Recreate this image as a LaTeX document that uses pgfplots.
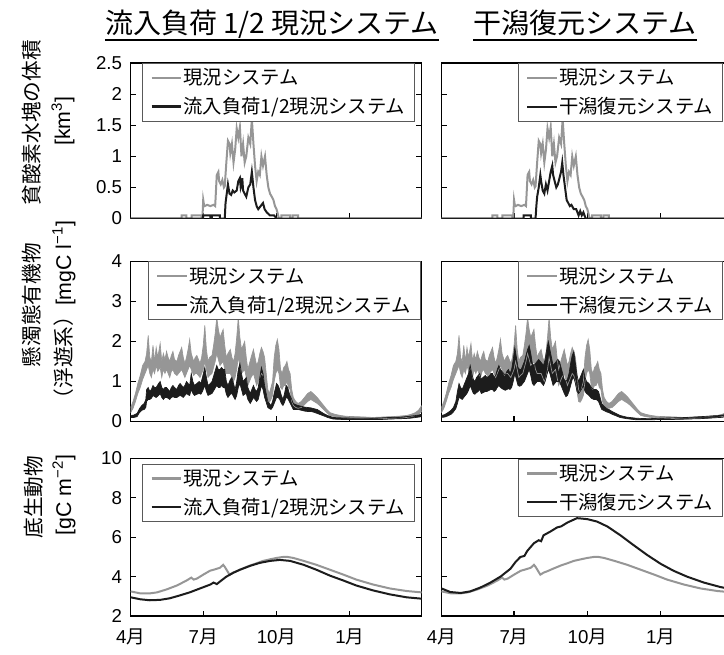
\documentclass[border=0pt]{standalone}
\usepackage{fontspec}
\setmainfont{Liberation Sans}
\newfontfamily\jp{Noto Sans CJK JP}
\usepackage{pgfplots}
\usepackage{pgfplotstable}
\pgfplotsset{compat=1.18}
\usepgfplotslibrary{fillbetween}
\definecolor{cgray}{RGB}{150,150,150}
\definecolor{cblack}{RGB}{28,28,28}

% ---------- Row 1: hypoxic water volume [km3] ----------
\pgfplotstableread{
d v
0 0
64 0
64 0.05
70 0.05
70 0
76.5 0
76.5 0.05
89 0.05
89 0
90 0
91 0.3
92 0.22
93 0.2
96 0.22
100 0.2
104 0.22
106 0.2
107 0.45
108 0.7
110 0.75
111 0.6
113 0.55
115 0.62
117 0.5
118 0.52
120 0.9
122 1.25
124 1.2
125 1.05
127 1.2
129 0.9
131 1.1
133 1.45
135 1.3
137 1.47
139 1.0
141 1.2
143 0.9
145 1.0
147.6 1.3
150 1.2
152 1.6
154 1.2
156 0.85
158 0.6
160 0.75
162 0.7
164 1.0
166 0.85
168.5 1.0
170.6 0.7
172.7 0.5
174.8 0.4
177 0.35
179 0.3
181 0.2
183 0.15
185 0.05
186 0
189 0
189 0.05
200 0.05
200 0
203 0
203 0.05
210 0.05
210 0
365 0
}\grayone
\pgfplotstableread{
d v
0 0
91 0
91 0.05
100 0.05
100 0
102 0
102 0.05
112 0.05
112 0
118 0
119 0.25
121 0.45
122 0.55
124 0.4
126 0.38
128 0.45
130 0.42
133 0.45
135 0.6
137 0.65
138 0.5
139 0.55
140 0.65
141 0.45
143 0.4
145 0.35
147.6 0.5
150 0.55
152 0.75
154 0.5
156 0.3
158 0.2
160 0.15
163 0.2
166 0.25
168 0.15
170.6 0.1
174.8 0.05
180 0.05
183 0
365 0
}\blackoneL
\pgfplotstableread{
d v
0 0
103 0
103 0.05
112 0.05
112 0
118 0
119 0.2
120 0.35
122 0.5
124 0.7
125 0.6
127 0.45
129 0.4
131 0.55
133 0.45
135 0.6
137 0.75
139 0.85
140 0.7
142 0.6
144 0.5
146 0.55
148 0.65
150 0.75
151.5 0.9
153 0.7
155 0.5
157 0.3
159 0.25
161 0.2
163 0.22
166 0.15
169 0.15
172 0.05
174 0.12
176 0.05
178 0.1
180 0.03
181 0
365 0
}\blackoneR

% ---------- Row 2: suspended organic matter (upper / lower envelope) ----------
\pgfplotstableread{
d u l
0 0.35 0.22
3 0.5 0.33
6 0.7 0.5
9 0.95 0.7
12 1.15 0.85
15 1.4 1.05
18 1.5 1.2
20 1.7 1.3
22 2.15 1.4
24 1.6 1.2
26 1.5 1.1
28 1.9 1.3
30 1.5 1.2
32 1.85 1.4
34 1.6 1.25
37 1.95 1.35
39 1.5 1.1
41 1.7 1.3
43 1.55 1.2
45 1.75 1.3
47 1.6 1.2
49 1.5 1.1
51 1.65 1.25
53 1.75 1.3
55 1.55 1.2
58 1.5 1.15
60 1.65 1.2
62 1.75 1.25
64 1.85 1.3
66 1.6 1.2
68 1.45 1.1
70 1.6 1.2
72 1.8 1.3
74 2.05 1.4
76 1.7 1.3
79 1.5 1.15
81 1.6 1.2
83 1.65 1.2
85 1.55 1.15
87 1.45 1.1
89 1.6 1.2
91 1.9 1.3
93 2.4 1.5
95 1.8 1.3
97 1.5 1.1
99 1.6 1.15
102 1.65 1.2
104 1.9 1.35
106 2.2 1.5
108 2.6 1.7
110 2.3 1.55
112 2.1 1.4
114 2.2 1.45
116 2.3 1.5
118 1.9 1.3
120 1.6 1.2
122 1.7 1.2
125 1.8 1.2
127 1.6 1.1
129 1.5 1.0
131 1.7 1.1
133 2.1 1.3
135 2.6 1.6
137 2.1 1.4
139 1.8 1.2
141 1.9 1.25
143 2.0 1.3
145 1.6 1.1
147 1.3 0.9
149 1.45 1.0
151 1.6 1.1
154 1.8 1.2
156 1.6 1.05
158 1.4 0.9
160 1.5 1.0
162 1.7 1.1
164 1.85 1.2
166 1.75 1.15
168 1.6 1.0
170 1.2 0.75
172 0.8 0.5
174 0.7 0.48
176 0.85 0.55
178 1.0 0.65
180 1.6 1.0
182 1.9 1.2
184 2.05 1.3
186 1.8 1.2
188 1.3 0.85
190 1.2 0.8
192 1.35 0.9
194 1.4 0.9
196 1.5 1.0
198 1.3 0.85
200 1.2 0.8
202 0.8 0.5
204 0.6 0.4
207 0.5 0.35
210 0.45 0.33
214 0.5 0.35
218 0.6 0.42
222 0.7 0.5
226 0.75 0.55
230 0.68 0.5
234 0.6 0.45
238 0.5 0.38
242 0.4 0.3
246 0.3 0.22
250 0.22 0.15
256 0.18 0.12
263 0.15 0.1
270 0.13 0.09
283 0.12 0.08
295 0.11 0.07
304 0.1 0.06
315 0.11 0.07
325 0.12 0.08
335 0.13 0.08
346 0.15 0.1
352 0.18 0.12
357 0.22 0.15
361 0.28 0.18
365 0.4 0.25
}\graytwo
\pgfplotstableread{
d u l
0 0.15 0.1
4 0.16 0.1
8 0.2 0.12
11 0.32 0.22
14 0.4 0.28
17 0.45 0.3
19 0.55 0.35
20 0.8 0.5
22 0.85 0.55
24 0.75 0.55
26 0.8 0.58
28 0.9 0.65
30 0.85 0.62
32 0.85 0.6
35 0.95 0.65
37 1.0 0.7
39 0.85 0.6
41 0.8 0.55
43 0.85 0.6
45 0.85 0.6
47 0.8 0.58
49 0.75 0.55
51 0.85 0.6
53 0.9 0.62
55 0.85 0.6
58 0.8 0.6
60 0.9 0.63
62 0.95 0.65
64 0.9 0.63
66 0.85 0.6
68 0.9 0.65
70 1.0 0.7
72 0.95 0.67
74 0.9 0.65
76 1.2 0.8
78 1.0 0.7
80 0.9 0.65
83 0.95 0.68
86 1.0 0.7
88 0.95 0.68
90 1.1 0.75
93 1.35 0.9
95 1.1 0.75
97 0.9 0.65
100 0.95 0.68
102 1.0 0.7
105 1.2 0.8
108 1.4 0.9
110 1.3 0.85
112 1.3 0.85
114 1.35 0.9
116 1.3 0.85
118 1.3 0.85
120 1.0 0.68
122 0.9 0.6
125 1.05 0.68
127 1.1 0.7
129 0.95 0.62
131 0.8 0.55
133 1.0 0.65
135 1.3 0.85
137 1.45 0.95
139 1.2 0.8
141 1.0 0.65
143 1.05 0.68
145 1.1 0.7
147 0.85 0.55
150 0.7 0.45
152 0.8 0.52
154 0.9 0.6
156 0.8 0.55
158 0.75 0.5
160 0.85 0.55
162 1.1 0.72
164 1.35 0.9
166 1.2 0.8
168 0.9 0.6
170 0.7 0.48
172 0.5 0.35
174 0.45 0.32
176 0.4 0.3
178 0.5 0.35
180 0.7 0.45
183 0.95 0.6
185 0.9 0.6
187 0.8 0.55
189 0.65 0.45
191 0.55 0.4
193 0.7 0.48
195 0.9 0.6
197 0.85 0.58
199 0.7 0.5
201 0.6 0.42
204 0.45 0.3
207 0.42 0.3
210 0.4 0.3
214 0.38 0.28
218 0.36 0.26
222 0.35 0.25
226 0.34 0.25
230 0.32 0.23
234 0.3 0.2
238 0.25 0.17
242 0.2 0.14
247 0.15 0.1
254 0.1 0.06
265 0.09 0.05
283 0.08 0.05
300 0.08 0.05
315 0.09 0.05
325 0.1 0.06
340 0.11 0.07
350 0.13 0.08
358 0.15 0.1
365 0.18 0.12
}\blacktwoL
\pgfplotstableread{
d u l
0 0.15 0.1
4 0.17 0.11
8 0.22 0.14
12 0.28 0.18
15 0.35 0.24
18 0.5 0.32
20 0.75 0.45
22 0.95 0.6
24 0.85 0.58
26 0.8 0.55
28 0.9 0.6
30 1.0 0.65
32 1.1 0.7
34 1.2 0.78
36 1.4 0.9
38 1.2 0.8
40 1.05 0.7
42 1.0 0.68
44 1.1 0.72
46 1.15 0.75
48 1.2 0.8
50 1.05 0.7
52 1.1 0.72
55 1.15 0.75
57 1.1 0.75
60 1.15 0.78
62 1.2 0.8
64 1.2 0.8
66 1.1 0.75
68 1.15 0.78
70 1.3 0.85
72 1.4 0.9
74 1.3 0.85
76 1.25 0.82
78 1.2 0.8
80 1.15 0.78
82 1.25 0.8
84 1.3 0.82
86 1.2 0.8
88 1.3 0.85
90 1.55 1.0
92 1.85 1.2
94 1.6 1.05
96 1.35 0.9
98 1.3 0.88
100 1.3 0.9
102 1.4 0.95
104 1.5 1.0
106 1.65 1.1
108 1.8 1.2
110 1.9 1.3
112 1.7 1.15
114 1.45 0.95
116 1.4 0.9
118 1.45 0.95
120 1.5 1.0
122 1.55 1.0
124 1.5 1.0
126 1.45 0.95
128 1.4 0.9
130 1.55 1.0
132 1.8 1.15
134 2.0 1.3
136 1.8 1.2
138 1.6 1.05
140 1.4 0.9
142 1.45 0.95
144 1.5 1.0
146 1.55 1.0
148 1.5 1.0
150 1.35 0.9
152 1.2 0.8
154 1.05 0.7
156 1.0 0.62
158 1.05 0.65
160 1.2 0.75
162 1.45 0.9
164 1.65 1.05
166 1.75 1.1
168 1.45 0.95
170 1.15 0.75
172 1.0 0.7
174 1.1 0.75
176 1.2 0.82
178 1.3 0.9
180 1.1 0.75
182 1.0 0.7
185 0.95 0.65
188 0.85 0.58
191 0.8 0.55
194 0.8 0.55
197 0.75 0.5
199 0.6 0.4
201 0.45 0.3
204 0.38 0.27
207 0.33 0.24
210 0.3 0.22
214 0.25 0.18
219 0.2 0.14
224 0.15 0.1
232 0.11 0.07
245 0.08 0.04
260 0.07 0.04
275 0.08 0.05
290 0.09 0.05
308 0.1 0.06
325 0.12 0.07
340 0.14 0.09
350 0.15 0.1
358 0.18 0.12
365 0.2 0.13
}\blacktwoR

% ---------- Row 3: benthos [gC m-2] ----------
\pgfplotstableread{
d v
0 3.25
12 3.15
24 3.15
33 3.2
45 3.35
58 3.55
70 3.8
76 3.95
79 3.85
83 3.9
91 4.1
99.5 4.3
104 4.35
108 4.4
112 4.45
116 4.6
118 4.5
121 4.3
124 4.1
128 4.2
133 4.28
141 4.42
150 4.57
158 4.68
166 4.8
177 4.9
183 4.95
191 5.0
197 5.0
204 4.95
217 4.8
233 4.6
250 4.35
267 4.1
283 3.85
304 3.6
325 3.4
346 3.27
365 3.2
}\graythree
\pgfplotstableread{
d v
0 2.95
12 2.85
24 2.8
37 2.82
49 2.9
62 3.05
74 3.2
87 3.4
100 3.6
104 3.7
108 3.62
112 3.75
120 4.0
129 4.2
137 4.35
150 4.55
162 4.7
175 4.8
187 4.85
200 4.8
217 4.6
233 4.35
250 4.05
267 3.8
283 3.55
304 3.3
325 3.1
346 2.95
365 2.88
}\blackthreeL
\pgfplotstableread{
d v
0 3.4
11 3.22
24 3.17
36 3.25
49 3.45
61.5 3.7
74 4.0
86.5 4.4
93 4.75
99 5.0
104 5.05
107.5 5.3
116 5.7
122 5.85
125 5.8
128 6.1
137 6.3
145 6.5
150 6.55
158 6.75
170 6.97
176 6.95
183 6.92
195 6.8
208 6.55
224.5 6.1
241 5.6
258 5.1
275 4.65
291 4.3
308 4.0
329 3.7
350 3.47
365 3.35
}\blackthreeR

\pgfplotsset{
  panel/.style={
    scale only axis, width=218.25pt, anchor=south west,
    xmin=0, xmax=365,
    xtick={0,91,183,275}, xticklabels={},
    axis line style={line width=1.1pt},
    tick align=inside, xtick pos=left, ytick pos=both,
    major tick length=4pt,
    tick style={black, line width=0.8pt},
    tick label style={font=\fontsize{14}{16}\selectfont},
    yticklabel style={xshift=-3pt},
    /pgf/number format/assume math mode=true,
    legend cell align=left,
    legend image code/.code={\draw[##1, line width=1.8pt] (0pt,0pt) -- (22pt,0pt);},
    legend style={draw=black!65, line width=0.6pt, fill=white,
      font=\jp\fontsize{14.5}{17}\selectfont,
      inner xsep=6pt, inner ysep=3pt, row sep=6pt,
      nodes={inner sep=1pt}},
  },
  noylab/.style={yticklabels={}},
  botx/.style={xticklabels={4{\jp 月},7{\jp 月},10{\jp 月},1{\jp 月}},
    xticklabel style={yshift=-6pt}},
  gl/.style={cgray, line width=1.5pt},
  bl/.style={cblack, line width=1.5pt},
}

\begin{document}
\begin{tikzpicture}
% ===== Row 1 =====
\begin{axis}[panel, at={(98.0pt,326.6pt)}, height=116.6pt,
  ymin=0, ymax=2.5, ytick={0,0.5,1,1.5,2,2.5},
  legend style={at={(0.977,1)}, anchor=north east}]
\addplot[gl] table[x=d,y=v]{\grayone};
\addlegendentry{現況システム}
\addplot[bl] table[x=d,y=v]{\blackoneL};
\addlegendentry{流入負荷1/2現況システム}
\end{axis}
\begin{axis}[panel, noylab, at={(331.1pt,326.6pt)}, height=116.6pt,
  ymin=0, ymax=2.5, ytick={0,0.5,1,1.5,2,2.5},
  legend style={at={(0.967,1)}, anchor=north east}]
\addplot[gl] table[x=d,y=v]{\grayone};
\addlegendentry{現況システム}
\addplot[bl] table[x=d,y=v]{\blackoneR};
\addlegendentry{干潟復元システム}
\end{axis}
% ===== Row 2 =====
\begin{axis}[panel, at={(98.0pt,174.4pt)}, height=120pt,
  ymin=0, ymax=4, ytick={0,1,2,3,4},
  legend style={at={(0.997,1)}, anchor=north east}]
\addplot[cgray, line width=0.5pt, name path=gUa, forget plot] table[x=d,y=u]{\graytwo};
\addplot[cgray, line width=0.5pt, name path=gLa, forget plot] table[x=d,y=l]{\graytwo};
\addplot[cgray, forget plot] fill between[of=gUa and gLa];
\addplot[cblack, line width=0.5pt, name path=bUa, forget plot] table[x=d,y=u]{\blacktwoL};
\addplot[cblack, line width=0.5pt, name path=bLa, forget plot] table[x=d,y=l]{\blacktwoL};
\addplot[cblack, forget plot] fill between[of=bUa and bLa];
\addlegendimage{cgray}
\addlegendentry{現況システム}
\addlegendimage{cblack}
\addlegendentry{流入負荷1/2現況システム}
\end{axis}
\begin{axis}[panel, noylab, at={(331.1pt,174.4pt)}, height=120pt,
  ymin=0, ymax=4, ytick={0,1,2,3,4},
  legend style={at={(0.967,1)}, anchor=north east}]
\addplot[cgray, line width=0.5pt, name path=gUb, forget plot] table[x=d,y=u]{\graytwo};
\addplot[cgray, line width=0.5pt, name path=gLb, forget plot] table[x=d,y=l]{\graytwo};
\addplot[cgray, forget plot] fill between[of=gUb and gLb];
\addplot[cblack, line width=0.5pt, name path=bUb, forget plot] table[x=d,y=u]{\blacktwoR};
\addplot[cblack, line width=0.5pt, name path=bLb, forget plot] table[x=d,y=l]{\blacktwoR};
\addplot[cblack, forget plot] fill between[of=bUb and bLb];
\addlegendimage{cgray}
\addlegendentry{現況システム}
\addlegendimage{cblack}
\addlegendentry{干潟復元システム}
\end{axis}
% ===== Row 3 =====
\begin{axis}[panel, botx, at={(98.0pt,28.5pt)}, height=118.1pt,
  ymin=2, ymax=10, ytick={2,4,6,8,10},
  legend style={at={(0.977,0.968)}, anchor=north east}]
\addplot[gl] table[x=d,y=v]{\graythree};
\addlegendentry{現況システム}
\addplot[bl] table[x=d,y=v]{\blackthreeL};
\addlegendentry{流入負荷1/2現況システム}
\end{axis}
\begin{axis}[panel, noylab, botx, at={(331.1pt,28.5pt)}, height=118.1pt,
  ymin=2, ymax=10, ytick={2,4,6,8,10},
  legend style={at={(0.967,1)}, anchor=north east}]
\addplot[gl] table[x=d,y=v]{\graythree};
\addlegendentry{現況システム}
\addplot[bl] table[x=d,y=v]{\blackthreeR};
\addlegendentry{干潟復元システム}
\end{axis}
% ===== titles =====
\node[inner sep=0pt, anchor=base, font=\jp\fontsize{21}{25}\selectfont] (t1) at (204pt,465pt) {流入負荷 1/2 現況システム};
\draw[line width=1.4pt] ([yshift=-4.5pt]t1.base west) -- ([yshift=-4.5pt]t1.base east);
\node[inner sep=0pt, anchor=base, font=\jp\fontsize{21}{25}\selectfont] (t2) at (438.75pt,465pt) {干潟復元システム};
\draw[line width=1.4pt] ([yshift=-4.5pt]t2.base west) -- ([yshift=-4.5pt]t2.base east);
% ===== y labels =====
\node[rotate=90, inner sep=0pt, font=\jp\fontsize{15.5}{18}\selectfont] at (24pt,398.25pt) {貧酸素水塊の体積};
\node[rotate=90, inner sep=0pt, font=\fontsize{16}{19}\selectfont] at (47.25pt,399.75pt) {[km\textsuperscript{3}]};
\node[rotate=90, inner sep=0pt, font=\jp\fontsize{15.5}{18}\selectfont] at (24pt,261.75pt) {懸濁態有機物};
\node[rotate=90, inner sep=0pt, font=\fontsize{16}{19}\selectfont] at (48pt,254.25pt) {{\jp\fontsize{15.5}{18}\selectfont （浮遊系）}[mgC l\textsuperscript{−1}]};
\node[rotate=90, inner sep=0pt, font=\jp\fontsize{15.5}{18}\selectfont] at (25.5pt,117.75pt) {底生動物};
\node[rotate=90, inner sep=0pt, font=\fontsize{16}{19}\selectfont] at (48pt,119.25pt) {[gC m\textsuperscript{−2}]};
\pgfresetboundingbox
\path[use as bounding box] (0pt,0pt) rectangle (543pt,490.5pt);
\end{tikzpicture}
\end{document}
